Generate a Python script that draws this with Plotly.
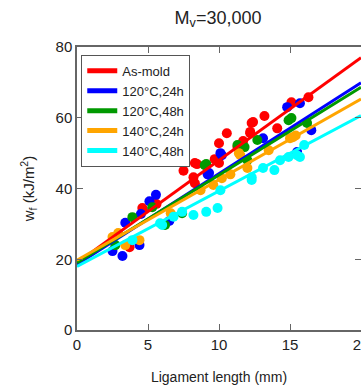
import plotly.graph_objects as go

series_names = ["As-mold", "120°C,24h", "120°C,48h", "140°C,24h", "140°C,48h"]
colors = ["#ff0000", "#0000ff", "#009900", "#ffa500", "#00ffff"]

# fitted lines: intercept, slope
intercepts = [19.0, 18.5, 19.0, 19.7, 18.0]
slopes = [2.9, 2.57, 2.48, 2.28, 2.13]

red_x = [3.7, 4.6, 4.65, 5.4, 5.6, 7.5, 8.3, 8.2, 8.3, 8.45, 9.7, 10.0, 10.0, 10.55, 11.3, 11.7, 12.2, 12.2, 12.3, 12.4, 13.2, 14.1, 15.1, 16.3]
red_y = [23.4, 34.5, 34.0, 35.9, 35.6, 45.0, 47.2, 43.2, 41.5, 46.9, 48.3, 52.8, 47.2, 55.6, 51.7, 53.4, 55.6, 56.0, 58.5, 58.8, 60.5, 57.0, 64.4, 65.8]

blue_x = [2.5, 3.2, 3.4, 4.4, 4.5, 5.1, 5.56, 6.5, 9.2, 9.3, 10.1, 10.2, 13.1, 15.5, 15.7, 16.5, 14.8]
blue_y = [22.3, 20.9, 30.3, 24.0, 32.8, 36.4, 38.2, 30.8, 44.0, 44.4, 50.0, 49.4, 54.2, 50.3, 64.1, 56.5, 63.0]

green_x = [2.7, 3.9, 5.3, 6.2, 7.4, 9.0, 9.1, 11.3, 11.8, 12.0, 12.7, 14.9, 15.1, 16.2]
green_y = [24.0, 31.9, 34.7, 29.7, 33.0, 46.6, 46.9, 52.3, 51.7, 48.0, 53.7, 59.3, 59.9, 58.5]

orange_x = [2.5, 2.9, 3.4, 4.4, 6.6, 8.7, 9.6, 10.2, 10.8, 11.4, 11.5, 12.0, 13.5, 15.0, 15.2, 15.4]
orange_y = [26.3, 27.4, 24.0, 25.4, 33.0, 39.5, 41.0, 42.9, 44.0, 50.0, 49.4, 45.8, 50.8, 54.2, 54.5, 55.0]

cyan_x = [3.9, 5.85, 6.0, 6.8, 7.4, 8.2, 9.1, 9.9, 10.1, 12.3, 12.3, 13.1, 13.9, 14.3, 14.9, 15.5, 15.7, 16.0]
cyan_y = [25.4, 30.2, 29.7, 32.0, 33.4, 32.5, 33.4, 34.5, 39.5, 42.4, 43.2, 45.8, 45.2, 48.0, 48.9, 49.4, 48.9, 52.3]

points = [(red_x, red_y), (blue_x, blue_y), (green_x, green_y), (orange_x, orange_y), (cyan_x, cyan_y)]

x_ticks = [0, 5, 10, 15, 20]
y_ticks = [0, 20, 40, 60, 80]
line_x = [0, 20]

fig = go.Figure()
for (px, py), c in zip(points, colors):
    fig.add_trace(go.Scatter(x=px, y=py, mode="markers", showlegend=False,
                             marker=dict(color=c, size=10, line=dict(width=0))))
for name, c, b, m in zip(series_names, colors, intercepts, slopes):
    fig.add_trace(go.Scatter(x=line_x, y=[b + m * xv for xv in line_x], mode="lines",
                             name=name, line=dict(color=c, width=3)))

axis_common = dict(showline=True, linecolor="#666666", linewidth=1.5, mirror="ticks",
                   ticks="inside", ticklen=6, tickcolor="#666666", showgrid=False,
                   zeroline=False, automargin=False, ticklabeloverflow="allow",
                   tickfont=dict(size=15, color="#222222"))

fig.update_layout(
    width=361, height=385,
    margin=dict(l=77, r=0, t=47, b=55, autoexpand=False),
    paper_bgcolor="white", plot_bgcolor="white",
    font=dict(family="Liberation Sans, Arial, sans-serif", color="#222222"),
    title=dict(text="M<sub>v</sub>=30,000", x=0.604, xanchor="center", y=0.955, yanchor="middle",
               font=dict(size=18)),
    xaxis=dict(range=[0, 20], tickvals=x_ticks, ticktext=[str(v) for v in x_ticks],
               title=dict(text="Ligament length (mm)", font=dict(size=14), standoff=22), **axis_common),
    yaxis=dict(range=[0, 80], tickvals=y_ticks, ticktext=[str(v) for v in y_ticks],
               title=dict(text="w<sub>f</sub> (kJ/m<sup>2</sup>)", font=dict(size=15), standoff=17), **axis_common),
    legend=dict(x=0.015, y=0.972, xanchor="left", yanchor="top", bgcolor="white",
                bordercolor="#555555", borderwidth=1, font=dict(size=13),
                tracegroupgap=0, itemsizing="constant"),
)

fig.write_html("out.html", config={"displayModeBar": False},
               post_script="document.body.style.margin='0';document.body.style.overflow='hidden';")
